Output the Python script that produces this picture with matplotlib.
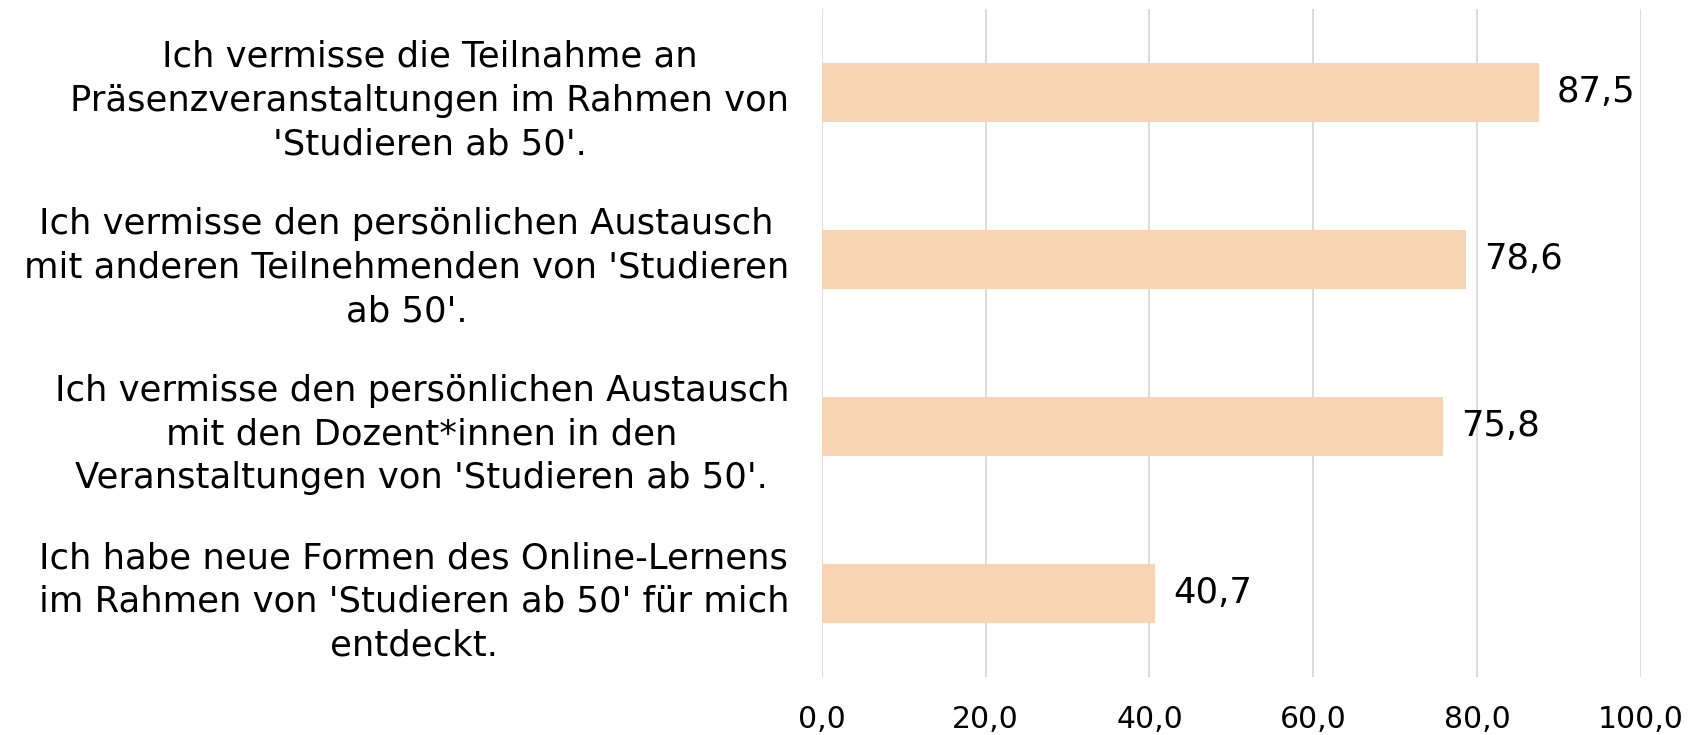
import matplotlib
matplotlib.use("Agg")
import matplotlib.pyplot as plt

categories = [
    "Ich vermisse die Teilnahme an\nPräsenzveranstaltungen im Rahmen von\n'Studieren ab 50'.",
    "Ich vermisse den persönlichen Austausch\nmit anderen Teilnehmenden von 'Studieren\nab 50'.",
    "Ich vermisse den persönlichen Austausch\nmit den Dozent*innen in den\nVeranstaltungen von 'Studieren ab 50'.",
    "Ich habe neue Formen des Online-Lernens\nim Rahmen von 'Studieren ab 50' für mich\nentdeckt.",
]
values = [87.5, 78.6, 75.8, 40.7]
ticks = [0, 20, 40, 60, 80, 100]

fig = plt.figure(figsize=(17.02, 7.35), dpi=100)
ax = fig.add_axes([0.4828, 0.079, 0.4814, 0.909])

pos = list(range(len(values)))[::-1]
ax.barh(pos, values, height=0.35, color="#f8d3b4", zorder=2)
for p, v in zip(pos, values):
    ax.text(v + 2.2, p, f"{v:.1f}".replace(".", ","), va="center", ha="left", fontsize=25.5)

ax.set_xlim(0, 100)
ax.set_ylim(-0.5, 3.5)
ax.set_xticks(ticks)
ax.set_xticklabels([f"{t:.1f}".replace(".", ",") for t in ticks], fontsize=21.5)
ax.set_yticks(pos)
ax.set_yticklabels(categories, fontsize=25.5, multialignment="center", linespacing=1.36)
ax.tick_params(axis="both", length=0)
ax.tick_params(axis="y", pad=23.5)
ax.tick_params(axis="x", pad=20)
ax.grid(axis="x", color="#d9d9d9", linewidth=1.3, zorder=0)
for s in ax.spines.values():
    s.set_visible(False)

fig.savefig("out.png", dpi=100)
